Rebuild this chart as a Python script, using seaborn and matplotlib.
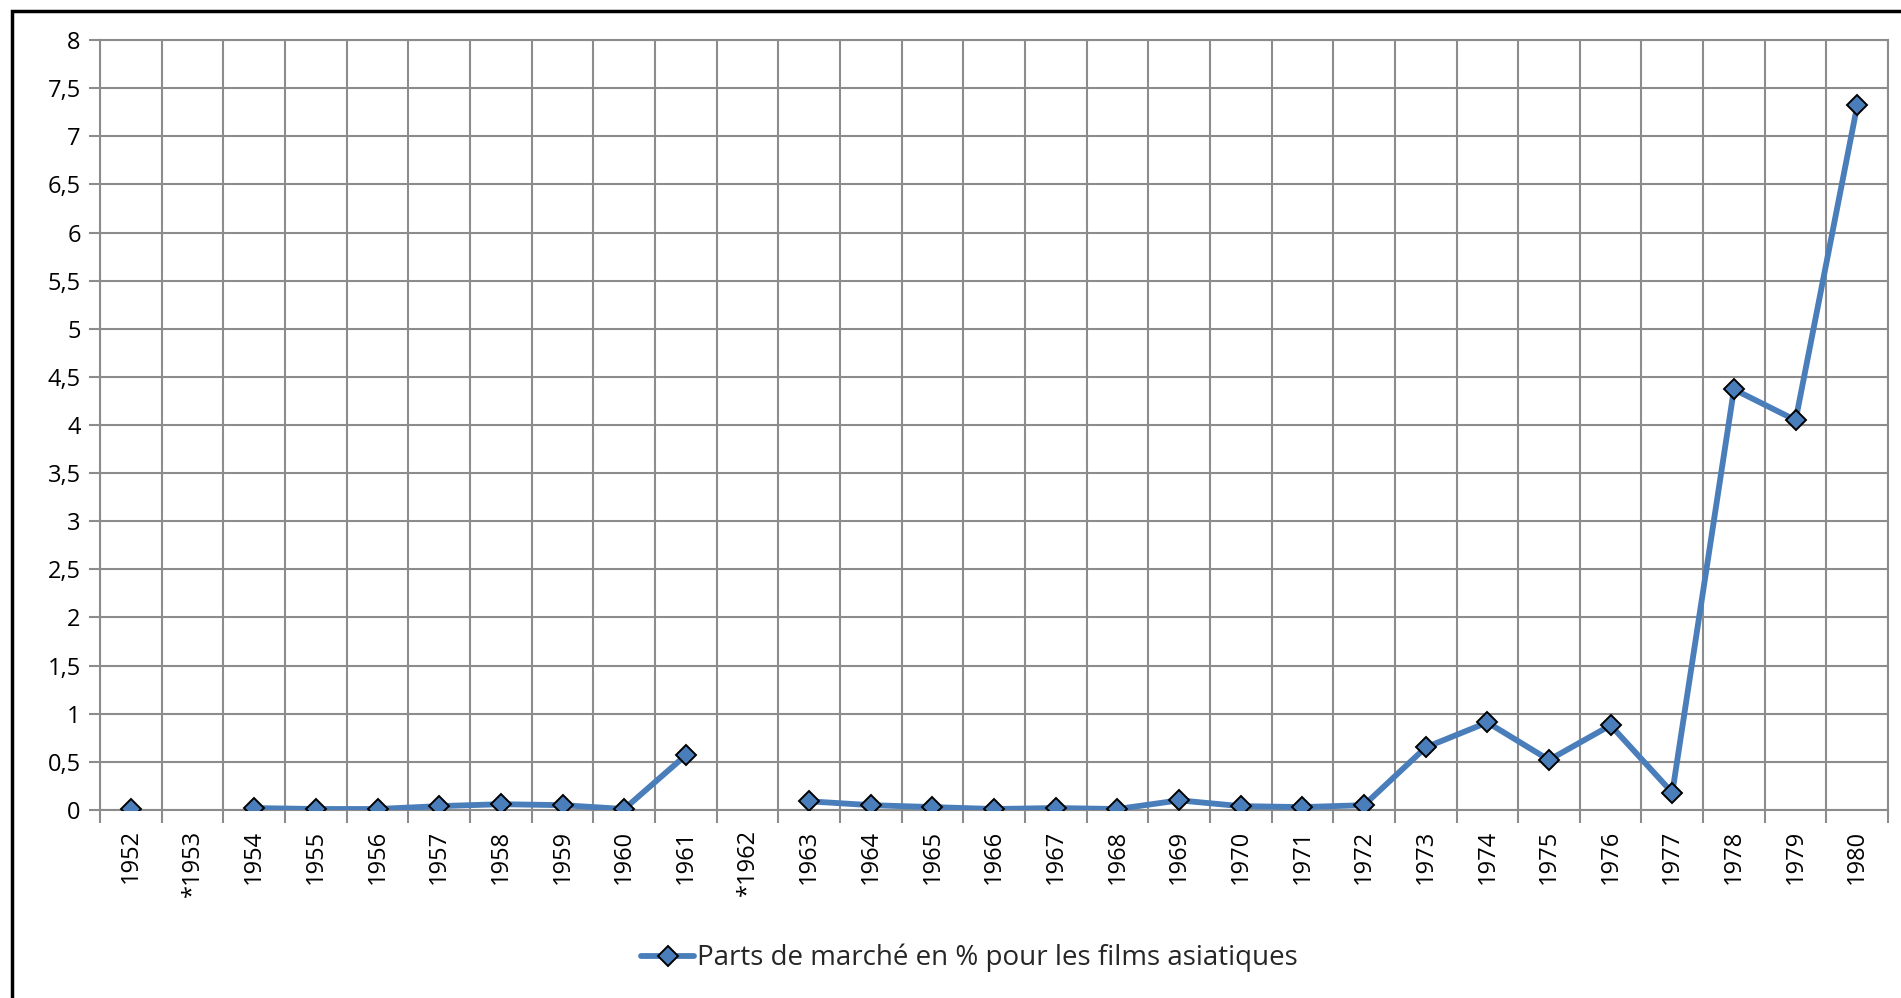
import numpy as np
import pandas as pd
import matplotlib
matplotlib.use('Agg')
import matplotlib.pyplot as plt
import seaborn as sns
from matplotlib.lines import Line2D
from matplotlib.patches import Rectangle
from matplotlib.ticker import FixedLocator, FuncFormatter

# données : parts de marché des films asiatiques (%)
annees = ['1952', '*1953', '1954', '1955', '1956', '1957', '1958', '1959', '1960', '1961',
          '*1962', '1963', '1964', '1965', '1966', '1967', '1968', '1969', '1970', '1971',
          '1972', '1973', '1974', '1975', '1976', '1977', '1978', '1979', '1980']
parts = [0.01, np.nan, 0.02, 0.01, 0.01, 0.04, 0.06, 0.05, 0.01, 0.57,
         np.nan, 0.09, 0.05, 0.03, 0.01, 0.02, 0.01, 0.10, 0.04, 0.03,
         0.05, 0.65, 0.91, 0.52, 0.88, 0.18, 4.37, 4.05, 7.32]
legende = 'Parts de marché en % pour les films asiatiques'

sns.set_theme(style='white')
plt.rcParams['font.family'] = ['Open Sans', 'DejaVu Sans']

df = pd.DataFrame({'annee': annees, 'part': parts})
df['pos'] = np.arange(len(df))
# segments séparés par les années manquantes
df['seg'] = df['part'].isna().cumsum()
df = df.dropna()

bleu = '#4a7ebb'
gris = '#8c8c8c'

fig = plt.figure(figsize=(19.01, 9.98), dpi=100)
ax = fig.add_axes([0.0527, 0.1884, 0.9405, 0.7715])

sns.lineplot(data=df, x='pos', y='part', units='seg', estimator=None, ax=ax,
             color=bleu, linewidth=4.2, marker='D', markersize=10,
             markerfacecolor=bleu, markeredgecolor='black', markeredgewidth=1.4,
             legend=False, zorder=5)

ax.set_xlim(-0.5, len(annees) - 0.5)
ax.set_ylim(0, 8)

ax.xaxis.set_major_locator(FixedLocator(np.arange(len(annees))))
ax.set_xticklabels(annees, rotation=90)
ax.xaxis.set_minor_locator(FixedLocator(np.arange(-0.5, len(annees), 1.0)))
ax.yaxis.set_major_locator(FixedLocator(np.arange(0, 8.01, 0.5)))
ax.yaxis.set_major_formatter(FuncFormatter(lambda v, p: f'{v:g}'.replace('.', ',')))

ax.tick_params(axis='x', which='major', length=0, pad=14, labelsize=17, colors='black')
ax.tick_params(axis='x', which='minor', length=9, width=1.5, color=gris, bottom=True)
ax.tick_params(axis='y', which='major', length=8, width=1.5, color=gris, pad=6,
               labelsize=17, left=True, labelcolor='black')

ax.grid(True, axis='y', which='major', color=gris, linewidth=1.5)
ax.grid(True, axis='x', which='minor', color=gris, linewidth=1.5)
ax.grid(False, axis='x', which='major')
ax.set_axisbelow(True)

for s in ['left', 'bottom', 'right', 'top']:
    ax.spines[s].set_color(gris)
    ax.spines[s].set_linewidth(1.5)

ax.set_xlabel('')
ax.set_ylabel('')

poignee = Line2D([], [], color=bleu, linewidth=4.2, marker='D', markersize=10,
                 markerfacecolor=bleu, markeredgecolor='black', markeredgewidth=1.4)
fig.legend([poignee], [legende], loc='center', bbox_to_anchor=(0.51, 0.04),
           frameon=False, fontsize=20, handlelength=1.9, handletextpad=0.1)

# cadre extérieur
fig.patches.append(Rectangle((12 / 1901, -0.1), 1.2, 1 - 11 / 998 + 0.1,
                             transform=fig.transFigure, fill=False,
                             edgecolor='black', linewidth=2.5))

plt.savefig('out.png', dpi=100)
